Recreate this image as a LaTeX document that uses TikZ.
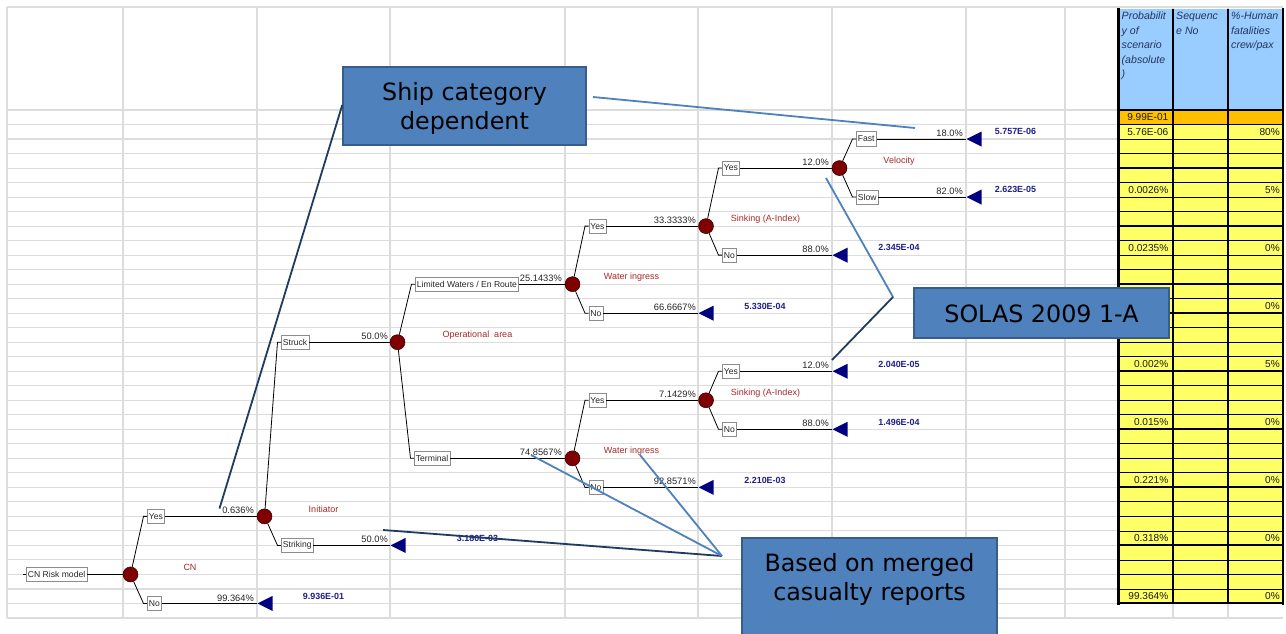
\documentclass[tikz,border=0pt]{standalone}
\usepackage{fontspec}
\setmainfont{Liberation Sans}
\newfontfamily\annfont{DejaVu Sans}
\usetikzlibrary{shapes.geometric}
\definecolor{gridgray}{HTML}{DCDCDC}
\definecolor{chancered}{HTML}{800000}
\definecolor{termnavy}{HTML}{000080}
\definecolor{valnavy}{HTML}{1E1E8C}
\definecolor{redlbl}{HTML}{A52A2A}
\definecolor{annfill}{HTML}{4F81BD}
\definecolor{annborder}{HTML}{385D8A}
\definecolor{darkcall}{HTML}{1F3B5F}
\definecolor{hdrblue}{HTML}{99CCFF}
\definecolor{rowyellow}{HTML}{FFFF66}
\definecolor{roworange}{HTML}{FFC000}
\definecolor{hdrtext}{HTML}{24365C}
\begin{document}
\begin{tikzpicture}[x=1pt,y=-1pt,
  gridline/.style={draw=gridgray, line width=1.1},
  tline/.style={draw=black, line width=0.8},
  chance/.style={circle, fill=chancered, draw=black!70!chancered, line width=0.5, minimum size=15, inner sep=0},
  lbl/.style={draw=black!45, fill=white, line width=0.6, inner xsep=1.6, inner ysep=0, minimum height=14.5, anchor=west, text=black!85, font=\fontsize{8.6}{10}\selectfont},
  term/.style={isosceles triangle, shape border rotate=180, isosceles triangle stretches, minimum width=15, minimum height=15, inner sep=0, fill=termnavy, anchor=apex},
  pct/.style={anchor=base east, inner sep=0, text=black!85, font=\fontsize{9.3}{11}\selectfont},
  val/.style={inner sep=0, text=valnavy, font=\bfseries\fontsize{8.9}{10}\selectfont},
  evt/.style={inner sep=0, text=redlbl, font=\fontsize{9}{10}\selectfont},
  annbox/.style={draw=annborder, fill=annfill, line width=1.5},
  anntext/.style={inner sep=0, align=center, font=\annfont\fontsize{23.8}{29.5}\selectfont, text=black},
  callLight/.style={draw=annfill, line width=1.8},
  callDark/.style={draw=darkcall, line width=1.8},
  cell/.style={anchor=east, inner sep=0, text=black!90, font=\fontsize{10.1}{12}\selectfont},
  hdr/.style={anchor=north west, inner sep=0, align=left, text=hdrtext, font=\itshape\fontsize{10.6}{14.5}\selectfont}
]
\clip (0,0) rectangle (1286,634);
\fill[white] (0,0) rectangle (1286,634);

% ---------- spreadsheet grid ----------
\foreach \x in {7,123,257,390,565,698,832,966,1065,1173,1228}
  \draw[gridline] (\x,7) -- (\x,618);
\draw[gridline] (7,7) -- (1283,7);
\foreach \k in {0,...,35}
  \draw[gridline] (7,{110+14.514*\k}) -- (1283,{110+14.514*\k});

% ---------- table ----------
\fill[hdrblue] (1118,9) rectangle (1283,110);
\fill[roworange] (1118,110) rectangle (1283,124.514);
\fill[rowyellow] (1118,124.514) rectangle (1283,603.48);
\foreach \k in {0,...,34}
  \draw[black, line width=0.8] (1118,{110+14.514*\k}) -- (1283,{110+14.514*\k});
\foreach \k in {0,4,8,12,14,18,22,26,30,34}
  \draw[black, line width=2] (1118,{110+14.514*\k}) -- (1283,{110+14.514*\k});
\draw[black, line width=2.5] (1118.5,8) -- (1118.5,604.5);
\draw[black, line width=1.3] (1173,9) -- (1173,603.5);
\draw[black, line width=2] (1228,9) -- (1228,603.5);
\draw[black, line width=1.6] (1283,8) -- (1283,604.5);

\node[hdr] (h1) at (1121.5,12) {Probabilit\\y of\\scenario\\(absolute\\)};
\node[hdr] (h2) at (1176,12) {Sequenc\\e No};
\node[hdr] (h3) at (1231,12) {\%-Human\\fatalities\\crew/pax};

\node[cell] (v0) at (1168.5,117.3) {9.99E-01};
\node[cell] (v1) at (1168.5,131.8) {5.76E-06};
\node[cell] (f1) at (1280,131.8) {80\%};
\node[cell] (v5) at (1168.5,189.8) {0.0026\%};
\node[cell] (f5) at (1280,189.8) {5\%};
\node[cell] (v9) at (1168.5,247.9) {0.0235\%};
\node[cell] (f9) at (1280,247.9) {0\%};
\node[cell] (f13) at (1280,306.0) {0\%};
\node[cell] (v17) at (1168.5,364.0) {0.002\%};
\node[cell] (f17) at (1280,364.0) {5\%};
\node[cell] (v21) at (1168.5,422.1) {0.015\%};
\node[cell] (f21) at (1280,422.1) {0\%};
\node[cell] (v25) at (1168.5,480.1) {0.221\%};
\node[cell] (f25) at (1280,480.1) {0\%};
\node[cell] (v29) at (1168.5,538.2) {0.318\%};
\node[cell] (f29) at (1280,538.2) {0\%};
\node[cell] (v33) at (1168.5,596.2) {99.364\%};
\node[cell] (f33) at (1280,596.2) {0\%};

% ---------- decision tree nodes ----------
\node[lbl] (root) at (26,574.45) {CN Risk model};
\coordinate (rootin) at (23,574.45);
\node[chance] (cn) at (130.5,574.45) {};
\node[lbl] (cnY) at (147,516.39) {Yes};
\node[lbl] (cnN) at (147,603.48) {No};
\node[chance] (ini) at (264.5,516.39) {};
\node[term] (tCN) at (257,603.48) {};
\node[lbl] (struck) at (281,342.22) {Struck};
\node[lbl] (striking) at (281,545.42) {Striking};
\node[chance] (op) at (397.5,342.22) {};
\node[term] (tStr) at (390,545.42) {};
\node[lbl] (lw) at (415,284.17) {Limited Waters / En Route};
\node[lbl] (termi) at (414,458.34) {Terminal};
\node[chance] (wu) at (572.5,284.17) {};
\node[chance] (wl) at (572.5,458.34) {};
\node[lbl] (wuY) at (588.5,226.11) {Yes};
\node[lbl] (wuN) at (588.5,313.20) {No};
\node[chance] (su) at (706,226.11) {};
\node[term] (tWuN) at (698,313.20) {};
\node[lbl] (suY) at (722,168.06) {Yes};
\node[lbl] (suN) at (722,255.14) {No};
\node[chance] (vel) at (839.5,168.06) {};
\node[term] (tSuN) at (832,255.14) {};
\node[lbl] (fast) at (856,139.03) {Fast};
\node[lbl] (slow) at (856,197.08) {Slow};
\node[term] (tFast) at (966,139.03) {};
\node[term] (tSlow) at (966,197.08) {};
\node[lbl] (wlY) at (588.5,400.28) {Yes};
\node[lbl] (wlN) at (588.5,487.36) {No};
\node[chance] (sl) at (706,400.28) {};
\node[term] (tWlN) at (698,487.36) {};
\node[lbl] (slY) at (722,371.25) {Yes};
\node[lbl] (slN) at (722,429.31) {No};
\node[term] (tSlY) at (832,371.25) {};
\node[term] (tSlN) at (832,429.31) {};

% ---------- connectors ----------
\draw[tline] (rootin) -- (root.west);
\draw[tline] (root.east) -- (cn);
\foreach \p/\c in {cn/cnY, cn/cnN, ini/struck, ini/striking, op/lw, op/termi, wu/wuY, wu/wuN, su/suY, su/suN, vel/fast, vel/slow, wl/wlY, wl/wlN, sl/slY, sl/slN}
  \draw[tline] (\p) -- ([xshift=-3.5pt]\c.west) -- (\c.west);
\foreach \a/\b in {cnY/ini, cnN/tCN, struck/op, striking/tStr, lw/wu, termi/wl, wuY/su, wuN/tWuN, suY/vel, suN/tSuN, fast/tFast, slow/tSlow, wlY/sl, wlN/tWlN, slY/tSlY, slN/tSlN}
  \draw[tline] (\a.east) -- (\b);

% ---------- probabilities ----------
\node[pct] (p1) at (254,513.9) {0.636\%};
\node[pct] (p2) at (254,601.0) {99.364\%};
\node[pct] (p3) at (388,339.7) {50.0\%};
\node[pct] (p4) at (388,542.9) {50.0\%};
\node[pct] (p5) at (562,281.7) {25.1433\%};
\node[pct] (p6) at (562,455.8) {74.8567\%};
\node[pct] (p7) at (696,223.6) {33.3333\%};
\node[pct] (p8) at (696,310.7) {66.6667\%};
\node[pct] (p9) at (829,165.6) {12.0\%};
\node[pct] (p10) at (829,252.6) {88.0\%};
\node[pct] (p11) at (963,136.5) {18.0\%};
\node[pct] (p12) at (963,194.6) {82.0\%};
\node[pct] (p13) at (696,397.8) {7.1429\%};
\node[pct] (p14) at (696,484.9) {92.8571\%};
\node[pct] (p15) at (829,368.8) {12.0\%};
\node[pct] (p16) at (829,426.8) {88.0\%};

% ---------- end values ----------
\node[val] (e1) at (323.5,596.2) {9.936E-01};
\node[val] (e2) at (477.5,538.2) {3.180E-03};
\node[val] (e3) at (765,306.0) {5.330E-04};
\node[val] (e4) at (899,247.9) {2.345E-04};
\node[val] (e5) at (1015.5,131.8) {5.757E-06};
\node[val] (e6) at (1015.5,189.8) {2.623E-05};
\node[val] (e7) at (765,480.1) {2.210E-03};
\node[val] (e8) at (899,364.0) {2.040E-05};
\node[val] (e9) at (899,422.1) {1.496E-04};

% ---------- event names ----------
\node[evt] (n1) at (190,567.2) {CN};
\node[evt] (n2) at (323.5,509.1) {Initiator};
\node[evt] (n3) at (477.5,335.0) {Operational\ \ area};
\node[evt] (n4) at (631.5,276.9) {Water ingress};
\node[evt] (n5) at (631.5,451.1) {Water ingress};
\node[evt] (n6) at (765.5,218.9) {Sinking (A-Index)};
\node[evt] (n7) at (765.5,393.0) {Sinking (A-Index)};
\node[evt] (n8) at (899,160.8) {Velocity};

% ---------- callouts ----------
\coordinate (shipTip) at (219.5,508.5);
\coordinate (shipA) at (593,97);
\coordinate (shipB) at (915,128);
\coordinate (solA) at (826,178);
\coordinate (solB) at (893,297);
\coordinate (solC) at (832,360);
\coordinate (bTip) at (722,556);
\coordinate (bA) at (383,530);
\coordinate (bB) at (531,455);
\coordinate (bC) at (640,455);
\draw[callLight] (shipA) -- (shipB);
\draw[callLight] (solA) -- (solB);
\draw[callDark] (solB) -- (solC);
\draw[callDark] (bA) -- (bTip);
\draw[callLight] (bB) -- (bTip);
\draw[callLight] (bC) -- (bTip);

\node[annbox, minimum width=243, minimum height=78] (ship) at (464.5,106) {};
\node[anntext] (shiptxt) at (464.5,108.5) {Ship category\\dependent};
\draw[callDark] ([yshift=1pt]ship.west) -- (shipTip);
\node[annbox, minimum width=255, minimum height=50] (solas) at (1041.5,313) {};
\node[anntext] (solastxt) at (1041.5,313.5) {SOLAS 2009 1-A};
\node[annbox, minimum width=255, minimum height=110, anchor=north] (based) at (869.5,537) {};
\node[anntext] (basedtxt) at (869.5,579.5) {Based on merged\\casualty reports};
\end{tikzpicture}
\end{document}
